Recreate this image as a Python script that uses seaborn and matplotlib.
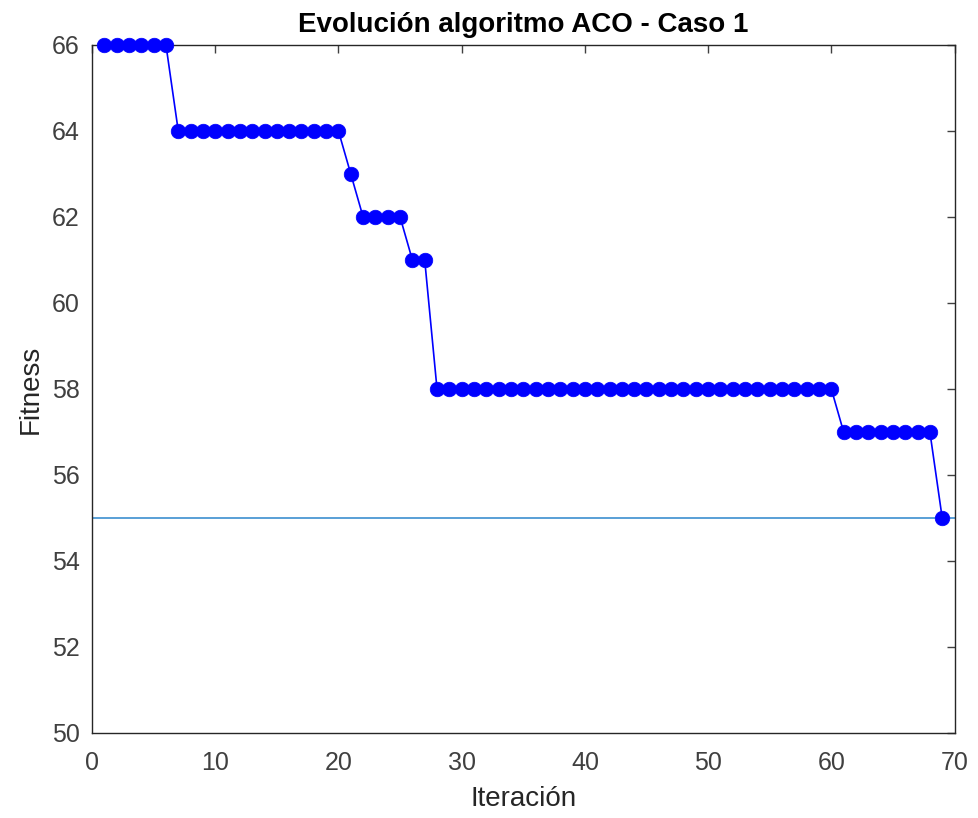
import matplotlib
matplotlib.use("Agg")
import matplotlib.pyplot as plt
import seaborn as sns
import numpy as np
import pandas as pd

# Data
iterations = list(range(1, 70))
fitness = ([66] * 6 + [64] * 14 + [63] + [62] * 4 + [61] * 2 +
           [58] * 33 + [57] * 8 + [55])
target_fitness = 55
x_ticks = [0, 10, 20, 30, 40, 50, 60, 70]
y_ticks = [50, 52, 54, 56, 58, 60, 62, 64, 66]

sns.set_style("white")
plt.rcParams['font.family'] = ['Liberation Sans', 'DejaVu Sans']

fig = plt.figure(figsize=(9.79, 8.18), dpi=100)
ax = fig.add_axes([0.094, 0.104, 0.881, 0.841])

df = pd.DataFrame({"Iteración": iterations, "Fitness": fitness})
sns.lineplot(data=df, x="Iteración", y="Fitness", ax=ax, color="#0000FF",
             marker="o", markersize=10.5, markeredgecolor="#0000FF",
             markeredgewidth=0.5, linewidth=1.2, clip_on=False, zorder=3)
ax.axhline(target_fitness, color="#3C8FD0", linewidth=1.2, zorder=1)

ax.set_xlim(0, 70)
ax.set_ylim(50, 66)
ax.set_xticks(x_ticks)
ax.set_yticks(y_ticks)
ax.tick_params(direction="in", top=True, right=True, length=6, width=1,
               colors="#404040", labelsize=18)
ax.tick_params(axis="x", pad=13)
ax.tick_params(axis="y", pad=9)
for s in ax.spines.values():
    s.set_color("#262626")
    s.set_linewidth(1)
    s.set_visible(True)

ax.set_title("Evolución algoritmo ACO - Caso 1", fontsize=20, fontweight="bold",
             color="black", pad=9)
ax.set_xlabel("Iteración", fontsize=20, color="#262626", labelpad=8)
ax.set_ylabel("Fitness", fontsize=20, color="#262626", labelpad=6)

fig.savefig("out.png", dpi=100)
